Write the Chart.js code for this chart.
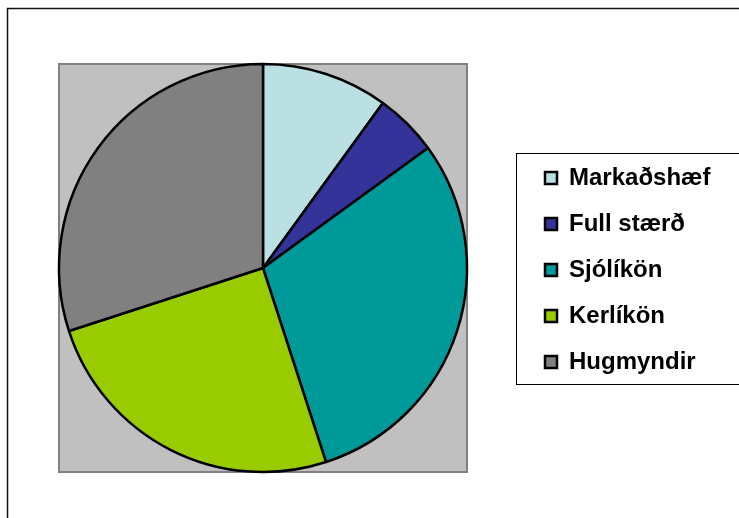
<!DOCTYPE html>
<html>
<head>
<meta charset="utf-8">
<script src="https://cdn.jsdelivr.net/npm/chart.js@4"></script>
<style>
  html, body { margin: 0; padding: 0; background: #fff; }
  #wrap { width: 739px; height: 518px; }
</style>
</head>
<body>
<div id="wrap"><canvas id="c-pie" width="739" height="518"></canvas></div>
<script>
const labels = ['Markaðshæf', 'Full stærð', 'Sjólíkön', 'Kerlíkön', 'Hugmyndir'];
const shares = [10, 5, 30, 25, 30];
const sliceColors = ['#BBE0E3', '#333399', '#009999', '#99CC00', '#808080'];

const fontFamily = "'Liberation Sans', Arial, sans-serif";
const legendSize = 24;
const legendPad = 22;
const boxW = 12;

// widest label decides legend width, so measure it up front
const mctx = document.createElement('canvas').getContext('2d');
mctx.font = `bold ${legendSize}px ${fontFamily}`;
const widest = Math.max(...labels.map(l => mctx.measureText(l).width));
const legendW = 10 + legendPad + boxW + legendSize / 2 + widest;
const legendLeft = 523;
const padRight = 739 - legendLeft - legendW;

const frames = {
    id: 'frames',
    beforeDatasetsDraw(chart) {
        const ctx = chart.ctx;
        const arc = chart.getDatasetMeta(0).data[0];
        if (!arc) return;
        const r = arc.outerRadius;
        ctx.save();
        // outer chart frame (only left/top edges visible)
        ctx.strokeStyle = '#111';
        ctx.lineWidth = 1.5;
        ctx.strokeRect(7.5, 8.5, 800, 600);
        // grey plot area behind the pie
        ctx.fillStyle = '#C0C0C0';
        ctx.fillRect(arc.x - r, arc.y - r, 2 * r, 2 * r);
        ctx.strokeStyle = '#808080';
        ctx.lineWidth = 2;
        ctx.strokeRect(arc.x - r, arc.y - r, 2 * r, 2 * r);
        ctx.restore();
    },
    afterDraw(chart) {
        const hb = chart.legend && chart.legend.legendHitBoxes;
        if (!hb || !hb.length) return;
        const first = hb[0], last = hb[hb.length - 1];
        const top = first.top + first.height / 2 - 25.5;
        const bottom = last.top + last.height / 2 + 21.5;
        const ctx = chart.ctx;
        ctx.save();
        ctx.strokeStyle = '#000';
        ctx.lineWidth = 1;
        ctx.strokeRect(first.left - 28.5, Math.round(top) + 0.5, 300, Math.round(bottom - top));
        ctx.restore();
    }
};

new Chart(document.getElementById('c-pie'), {
    type: 'pie',
    data: {
        labels: labels,
        datasets: [{
            data: shares,
            backgroundColor: sliceColors,
            borderColor: '#000',
            borderWidth: 2.5
        }]
    },
    options: {
        responsive: false,
        animation: false,
        radius: 204,
        layout: { padding: { left: 2 * 263 - legendLeft, top: 18, bottom: 0, right: padRight } },
        plugins: {
            legend: {
                position: 'right',
                // tiny empty title just nudges the items 2px down
                title: { display: true, text: '', font: { size: 1 }, padding: { top: 1.4, bottom: 1.4 } },
                labels: {
                    color: '#000',
                    font: { family: fontFamily, size: legendSize, weight: 'bold' },
                    boxWidth: boxW,
                    boxHeight: boxW,
                    padding: legendPad
                }
            },
            tooltip: { enabled: false }
        }
    },
    plugins: [frames]
});
</script>
</body>
</html>
